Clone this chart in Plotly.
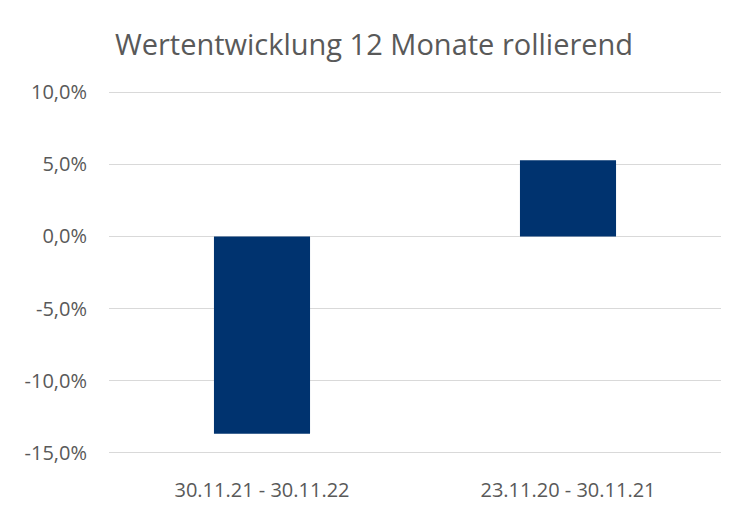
import plotly.graph_objects as go

categories = ["30.11.21 - 30.11.22", "23.11.20 - 30.11.21"]
values = [-13.7, 5.3]
tick_vals = [-15, -10, -5, 0, 5, 10]
tick_text = [f"{v:.1f}".replace(".", ",") + "%" for v in tick_vals]

W, H = 740, 510  # page body has an 8px margin

fig = go.Figure(go.Bar(x=categories, y=values, marker=dict(color="#00336F", line=dict(width=0)),
                       width=0.314, hoverinfo="skip"))

fig.update_layout(
    width=W, height=H,
    paper_bgcolor="white", plot_bgcolor="white",
    margin=dict(l=101, r=27, t=82.5, b=63.5, autoexpand=False),
    font=dict(family="Open Sans", color="#595959", size=20),
    title=dict(text="Wertentwicklung 12 Monate rollierend", x=(374 - 8) / W, xanchor="center",
               y=1 - 37 / H, yanchor="middle", xref="container", yref="container",
               font=dict(size=29, color="#595959")),
    showlegend=False,
    bargap=0.686,
)
fig.update_yaxes(range=[-15.1, 10.1], tickvals=tick_vals, ticktext=tick_text,
                 showgrid=True, gridcolor="#D9D9D9", gridwidth=1,
                 zeroline=True, zerolinecolor="#D9D9D9", zerolinewidth=1,
                 showline=False, ticks="", ticklabelstandoff=21, fixedrange=True)
fig.update_xaxes(showline=False, showgrid=False, ticks="", ticklabelstandoff=22, fixedrange=True)

fig.write_html("out.html", config={"displayModeBar": False})
